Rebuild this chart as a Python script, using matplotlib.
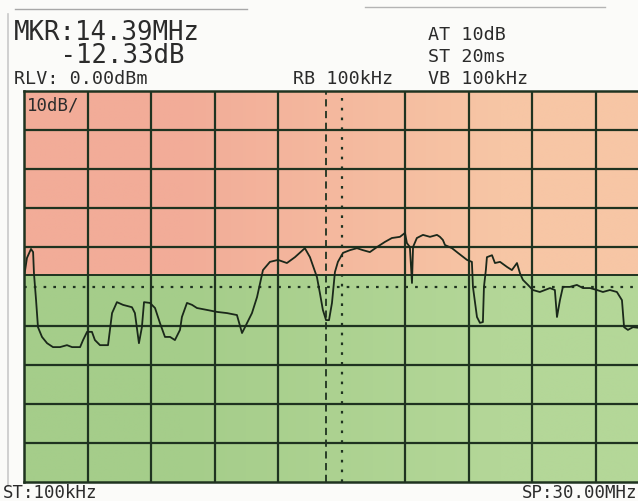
import numpy as np
import matplotlib.pyplot as plt
from matplotlib.lines import Line2D

# trace: frequency (MHz) and level (dBm)
freq_mhz = [0.13, 0.24, 0.43, 0.53, 0.57, 0.67, 0.76, 0.95, 1.19, 1.47,
            1.80, 2.13, 2.37, 2.75, 2.89, 3.08, 3.31, 3.45, 3.69, 4.07,
            4.26, 4.49, 4.78, 5.20, 5.34, 5.53, 5.67, 5.77, 6.05, 6.29,
            6.52, 6.76, 7.00, 7.23, 7.47, 7.56, 7.80, 8.04, 8.27, 8.75,
            9.22, 9.69, 10.16, 10.40, 10.54, 10.87, 11.11, 11.39, 11.72, 12.10,
            12.52, 12.90, 13.37, 13.61, 13.94, 14.08, 14.22, 14.37, 14.51, 14.65,
            14.79, 14.93, 15.17, 15.50, 15.83, 16.11, 16.44, 16.78, 17.15, 17.48,
            17.86, 18.10, 18.19, 18.33, 18.43, 18.48, 18.66, 18.95, 19.28, 19.61,
            19.75, 19.89, 19.99, 20.32, 20.60, 21.03, 21.26, 21.31, 21.50, 21.64,
            21.78, 21.83, 21.92, 21.97, 22.21, 22.35, 22.59, 22.92, 23.15, 23.39,
            23.53, 23.67, 23.91, 24.14, 24.47, 24.95, 25.18, 25.28, 25.42, 25.56,
            25.89, 26.22, 26.51, 26.84, 27.17, 27.45, 27.78, 28.11, 28.35, 28.45,
            28.63, 28.87, 29.20]
level_db = [-46.6, -42.7, -40.4, -41.2, -46.6, -53.5, -60.4, -62.9, -64.5, -65.5,
            -65.5, -65.0, -65.5, -65.5, -63.7, -61.6, -61.6, -63.7, -65.0, -65.0,
            -56.8, -54.0, -54.7, -55.3, -56.8, -64.5, -60.4, -54.0, -54.2, -55.5,
            -59.3, -62.9, -62.9, -63.7, -61.1, -57.8, -54.2, -54.7, -55.5, -56.0,
            -56.5, -56.8, -57.3, -61.9, -60.4, -56.8, -52.7, -45.8, -43.7, -43.2,
            -44.0, -42.5, -40.2, -42.5, -47.6, -51.7, -56.0, -58.6, -58.6, -54.2,
            -46.3, -43.7, -41.4, -40.7, -40.2, -40.7, -41.2, -39.9, -38.6, -37.6,
            -37.3, -36.3, -38.9, -39.9, -49.1, -39.9, -37.6, -36.8, -37.3, -36.8,
            -37.3, -38.1, -39.4, -40.2, -41.4, -43.2, -43.7, -50.1, -57.8, -59.3,
            -59.1, -50.1, -45.8, -42.5, -42.0, -44.0, -43.7, -45.0, -45.8, -44.0,
            -46.6, -48.3, -49.6, -50.9, -51.4, -50.4, -50.9, -57.8, -53.5, -50.1,
            -50.1, -49.6, -50.4, -50.4, -50.9, -51.4, -50.9, -51.4, -53.5, -60.4,
            -61.1, -60.4, -60.6]

start_mhz = 0.1
span_mhz = 30.0
ref_db = 0
db_per_div = 10
marker_mhz = 14.39
limit_db = -47

W, H = 638, 501
fig = plt.figure(figsize=(W / 100, H / 100), dpi=100)
fig.patch.set_facecolor('#fbfbf9')


def box(x0, y0, w, h):
    return [x0 / W, 1 - (y0 + h) / H, w / W, h / H]


ax = fig.add_axes(box(24, 91, 635, 391))
x0, x1 = start_mhz, start_mhz + span_mhz
y0, y1 = ref_db - 10 * db_per_div, ref_db
ax.set_xlim(x0, x1)
ax.set_ylim(y0, y1)

# coloured background, slight left-to-right shading like the screen
pink = np.array([[[242, 172, 152], [247, 198, 165]]]) / 255
green = np.array([[[165, 205, 138], [180, 215, 152]]]) / 255
ax.imshow(pink, extent=[x0, x1, limit_db, y1], aspect='auto',
          interpolation='bilinear', zorder=0)
ax.imshow(green, extent=[x0, x1, y0, limit_db], aspect='auto',
          interpolation='bilinear', zorder=0)

gridc = '#1f3320'
div_mhz = span_mhz / 10
for i in range(1, 10):
    ls = (0, (1.2, 3.2)) if i == 5 else '-'
    ax.axvline(x0 + i * div_mhz, color=gridc, lw=1.6, ls=ls, zorder=1)
    ax.axhline(y1 - i * db_per_div, color=gridc, lw=1.6, ls=ls, zorder=1)
ax.axhline(limit_db, color=gridc, lw=1.4, zorder=1)
ax.axvline(marker_mhz, color=gridc, lw=1.3, ls=(0, (4, 2.5)), zorder=1)

ax.plot(freq_mhz, level_db, color='#1a281a', lw=1.3, zorder=2)

for s in ax.spines.values():
    s.set_color(gridc)
    s.set_linewidth(1.8)
ax.set_xticks([])
ax.set_yticks([])

mono = 'DejaVu Sans Mono'
tc = '#2b2b2b'


def label(x, y, s, size, **kw):
    fig.text(x / W, 1 - y / H, s, fontsize=size, family=mono, color=tc,
             ha='left', va='baseline', **kw)


# marker readout: two lines in one text block
fig.text(14 / W, 1 - 63 / H, 'MKR:14.39MHz\n   -12.33dB', fontsize=18.5,
         family=mono, color=tc, ha='left', va='baseline',
         linespacing=0.86, multialignment='left')
label(14, 84, 'RLV: 0.00dBm', 13.2)
label(293, 84, 'RB 100kHz', 13.2)
label(428, 40, 'AT 10dB', 13.2)
label(428, 62, 'ST 20ms', 13.2)
label(428, 84, 'VB 100kHz', 13.2)
label(27, 110, '10dB/', 12.5)
label(3, 498, 'ST:100kHz', 12.5)
label(522, 498, 'SP:30.00MHz', 12.5)

# edge of the photographed screen
fig.add_artist(Line2D([8 / W, 8 / W], [1 - 14 / H, 1 - 486 / H],
                      color='#c9c9c9', lw=1.2))
fig.add_artist(Line2D([15 / W, 247 / W], [1 - 9 / H, 1 - 9 / H],
                      color='#a8a8a8', lw=1.0))
fig.add_artist(Line2D([365 / W, 605 / W], [1 - 7 / H, 1 - 7 / H],
                      color='#b4b4b4', lw=1.0))

fig.savefig('out.png', dpi=100, facecolor=fig.get_facecolor())
